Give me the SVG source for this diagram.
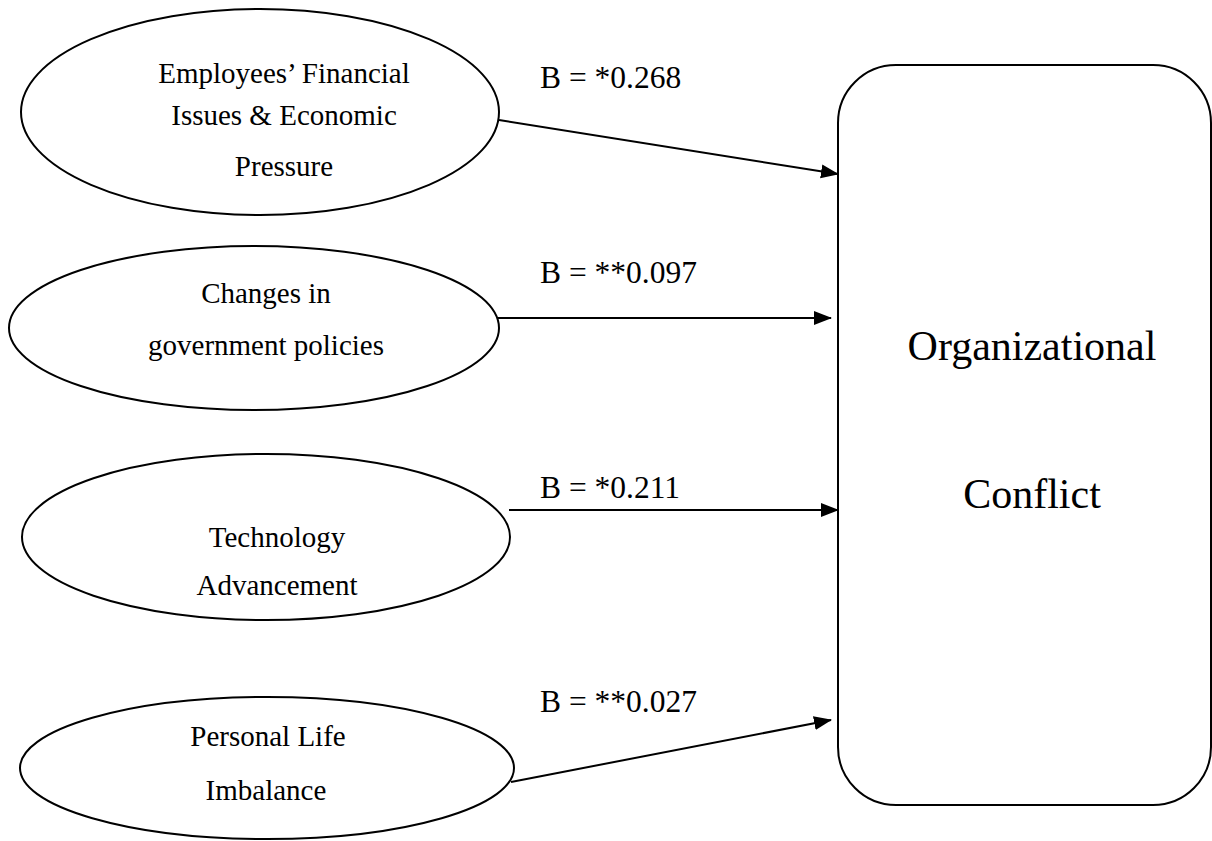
<svg xmlns="http://www.w3.org/2000/svg" width="1212" height="841" viewBox="0 0 1212 841">
<style>
.shape{fill:#fff;stroke:#000;stroke-width:2}
.t{font-family:"Liberation Serif","Times New Roman",serif;font-size:29px;fill:#000;text-anchor:middle}
.lbl{font-family:"Liberation Serif","Times New Roman",serif;font-size:31.5px;fill:#000}
.big{font-family:"Liberation Serif","Times New Roman",serif;font-size:42px;fill:#000;text-anchor:middle}
.edge{stroke:#000;stroke-width:2;fill:none;marker-end:url(#arr)}
</style>
<defs>
<marker id="arr" markerUnits="userSpaceOnUse" markerWidth="18" markerHeight="16" refX="17" refY="8" orient="auto">
<path d="M0,1 L18,8 L0,15 Z" fill="#000"/>
</marker>
</defs>
<rect width="1212" height="841" fill="#fff"/>
<g id="connectors">
<line class="edge" x1="499" y1="120" x2="838" y2="174"/>
<line class="edge" x1="497" y1="318" x2="831" y2="318"/>
<line class="edge" x1="509" y1="510" x2="838" y2="510"/>
<line class="edge" x1="511" y1="782" x2="831" y2="720"/>
<text class="lbl" x="540" y="88">B = *0.268</text>
<text class="lbl" x="540" y="283">B = **0.097</text>
<text class="lbl" x="540" y="498">B = *0.211</text>
<text class="lbl" x="540" y="712">B = **0.027</text>
</g>
<g id="n1">
<ellipse class="shape" cx="260" cy="112" rx="239" ry="103"/>
<text class="t" x="284" y="83">Employees’ Financial</text>
<text class="t" x="284" y="125">Issues &amp; Economic</text>
<text class="t" x="284" y="176">Pressure</text>
</g>
<g id="n2">
<ellipse class="shape" cx="254" cy="328" rx="245" ry="82"/>
<text class="t" x="266" y="303">Changes in</text>
<text class="t" x="266" y="355">government policies</text>
</g>
<g id="n3">
<ellipse class="shape" cx="266" cy="537" rx="244" ry="83"/>
<text class="t" x="277" y="547">Technology</text>
<text class="t" x="277" y="595">Advancement</text>
</g>
<g id="n4">
<ellipse class="shape" cx="267" cy="768" rx="247" ry="71"/>
<text class="t" x="268" y="746">Personal Life</text>
<text class="t" x="266" y="800">Imbalance</text>
</g>
<g id="target">
<rect class="shape" x="838" y="65" width="373" height="740" rx="58" ry="58"/>
<text class="big" x="1032" y="360">Organizational</text>
<text class="big" x="1032" y="508">Conflict</text>
</g>
</svg>
